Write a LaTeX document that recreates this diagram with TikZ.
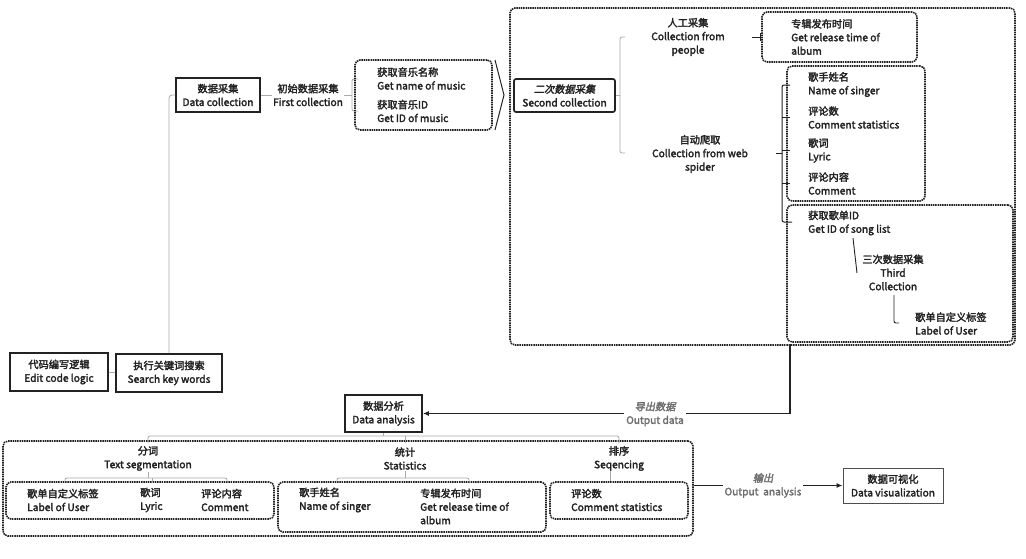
\documentclass[tikz,border=0pt]{standalone}
\usepackage{fontspec}
\setmainfont{Noto Sans CJK SC}[UprightFeatures={FakeBold=2.5}]
\newfontfamily\itcjk{Noto Sans CJK SC}[UprightFeatures={FakeSlant=0.22,FakeBold=2.5}]
\usetikzlibrary{arrows.meta}
\definecolor{ink}{HTML}{222222}
\definecolor{tree}{HTML}{AAAAAA}
\definecolor{lblgray}{HTML}{6E6E6E}
\tikzset{
 txt/.style={font=\fontsize{10.2}{13.5}\selectfont, text=ink, inner sep=1pt, align=left},
 ctxt/.style={txt, align=center},
 sbox/.style={draw=ink, line width=1.7pt, ctxt, inner sep=0pt},
 dbox/.style={draw=ink, line width=1.6pt, dash pattern=on 1.5pt off 0.8pt, rounded corners=5pt, inner sep=0pt},
 gline/.style={draw=tree, line width=0.8pt},
 bline/.style={draw=ink, line width=1pt},
 lbl/.style={font=\fontsize{10.2}{13.5}\selectfont, text=lblgray, fill=white, align=center, inner sep=2pt},
 arr/.style={draw=ink, line width=1.2pt, -{Latex[length=6pt,width=5pt]}},
}
\begin{document}
\begin{tikzpicture}[x=1pt,y=-1pt]
\useasboundingbox (0,0) rectangle (1026,558);

% ---------- top left ----------
\node[sbox, minimum width=98pt, minimum height=38pt] (code) at (59,372) {代码编写逻辑\\Edit code logic};
\node[sbox, minimum width=106pt, minimum height=38pt] (search) at (169,373) {执行关键词搜索\\Search key words};
\node[sbox, minimum width=84pt, minimum height=34pt] (datacol) at (218,95) {数据采集\\Data collection};
\draw[gline] (code) -- (search);
\draw[gline, rounded corners=3pt] (search.north) |- (datacol.west);

\node[ctxt] (first) at (308,95) {初始数据采集\\First collection};
\draw[gline] (datacol.east) -- (first.west);
\coordinate (fb) at (352,95);
\draw[gline] (first.east) -- (fb);
\draw[gline, rounded corners=2pt] (358,79) -- (352,79) -- (352,111) -- (358,111);

\node[dbox, minimum width=137pt, minimum height=70pt] (music) at (423.5,95) {};
\node[txt, anchor=west] (m1) at (376,78.5) {获取音乐名称\\Get name of music};
\node[txt, anchor=west] (m2) at (376,111) {获取音乐ID\\Get ID of music};

% chevron
\coordinate (c1) at (495,60);
\coordinate (c2) at (504,95);
\coordinate (c3) at (495,130);
\draw[bline] (c1) -- (c2) -- (c3);

% ---------- second collection ----------
\node[dbox, minimum width=505pt, minimum height=337pt] (big) at (762.5,176.5) {};
\node[sbox, rounded corners=2pt, minimum width=101pt, minimum height=33pt] (second) at (564.5,95.5) {{\itcjk 二次数据采集}\\Second collection};
\coordinate (sb) at (620,95.5);
\draw[gline] (second.east) -- (sb);
\draw[gline, rounded corners=2pt] (625,37) -- (620,37) -- (620,153) -- (625,153);

\node[ctxt] (people) at (688,37) {人工采集\\Collection from\\people};
\node[ctxt] (spider) at (700,154) {自动爬取\\Collection from web\\spider};

\node[dbox, minimum width=155pt, minimum height=50pt] (release) at (839.5,37) {};
\node[txt, anchor=west] (reltxt) at (790,37) {专辑发布时间\\Get release time of\\album};
\coordinate (pt) at (752,37);
\draw[bline] (pt) -- (release.west);
\draw[bline] (760,33) -- (760,41);

\node[dbox, minimum width=138pt, minimum height=135pt] (attrs) at (856,133.5) {};
\node[txt, anchor=west] (a1) at (807,84.5) {歌手姓名\\Name of singer};
\node[txt, anchor=west] (a2) at (807,117.5) {评论数\\Comment statistics};
\node[txt, anchor=west] (a3) at (807,150.5) {歌词\\Lyric};
\node[txt, anchor=west] (a4) at (807,183.5) {评论内容\\Comment};

\draw[bline] (776,153) -- (782,153);
\draw[bline, rounded corners=2pt] (790,85) -- (782,85) -- (782,222) -- (792,222);
\foreach \yy in {117.5,150.5,183.5} \draw[bline] (782,\yy) -- (790,\yy);

\node[dbox, minimum width=226pt, minimum height=137pt] (songlist) at (900,273.5) {};
\node[txt, anchor=west] (s1) at (807,223) {获取歌单ID\\Get ID of song list};
\node[ctxt] (third) at (893,272.5) {三次数据采集\\Third\\Collection};
\draw[bline, line width=0.9pt] (853,238) -- (857,273);
\draw[bline, line width=0.9pt, rounded corners=2pt] (894,295) -- (894,323) -- (899,323);
\node[txt, anchor=west] (userlbl) at (914,323.5) {歌单自定义标签\\Label of User};

% ---------- output data ----------
\node[sbox, minimum width=77pt, minimum height=37pt] (analysis) at (383.5,413.5) {数据分析\\Data analysis};
\coordinate (ob) at (790,344);
\draw[arr] (ob) |- (analysis.east);
\node[lbl] (outdata) at (655,414) {{\itcjk 导出数据}\\Output data};

% ---------- bottom ----------
\node[dbox, minimum width=690pt, minimum height=95pt] (bottom) at (348,488.5) {};
\draw[gline] (analysis.south) -- (analysis.south |- 0,436);
\draw[gline, rounded corners=2pt] (148,443) -- (148,436) -- (619,436) -- (619,443);
\draw[gline] (405,436) -- (405,443);

\node[ctxt] (seg) at (148,458.5) {分词\\Text segmentation};
\node[ctxt] (stat) at (405,458.5) {统计\\Statistics};
\node[ctxt] (sort) at (619,458.5) {排序\\Seqencing};

\node[dbox, minimum width=268pt, minimum height=37pt] (sb1) at (140,500.5) {};
\node[dbox, minimum width=268pt, minimum height=50pt] (sb2) at (412,507) {};
\node[dbox, minimum width=138pt, minimum height=37pt] (sb3) at (619,500.5) {};

\draw[gline] (seg.south) -- (148,478);
\draw[gline, rounded corners=2pt] (65,482) -- (65,478) -- (227,478) -- (227,482);
\draw[gline] (152,478) -- (152,482);
\draw[gline] (stat.south) -- (405,478);
\draw[gline, rounded corners=2pt] (337,482) -- (337,478) -- (469,478) -- (469,482);
\draw[gline] (610,471) -- (sb3.north -| 610,0);

\node[txt, anchor=west] (b1) at (26,500) {歌单自定义标签\\Label of User};
\node[txt, anchor=west] (b2) at (139,500) {歌词\\Lyric};
\node[txt, anchor=west] (b3) at (200,500) {评论内容\\Comment};
\node[txt, anchor=west] (b4) at (298,500) {歌手姓名\\Name of singer};
\node[txt, anchor=west] (b5) at (419,506.5) {专辑发布时间\\Get release time of\\album};
\node[txt, anchor=west] (b6) at (570,500) {评论数\\Comment statistics};

\node[draw=ink!80, line width=0.9pt, ctxt, inner sep=0pt, minimum width=100pt, minimum height=35pt] (vis) at (893,485.5) {数据可视化\\Data visualization};
\draw[arr] (bottom.east |- vis.west) -- (vis.west);
\node[lbl] (outan) at (763,485.5) {{\itcjk 输出}\\Output\ \ analysis};
\end{tikzpicture}
\end{document}
